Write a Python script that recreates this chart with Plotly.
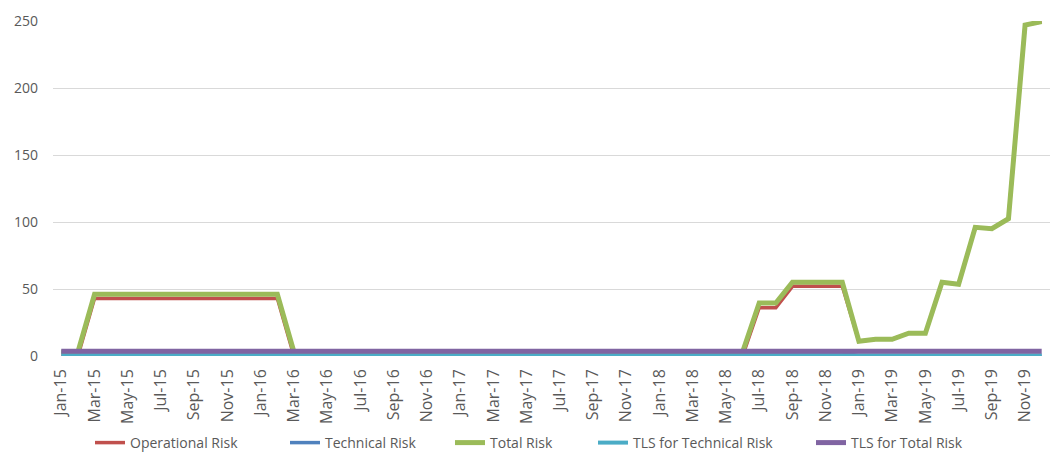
import plotly.graph_objects as go

months = ["Jan", "Feb", "Mar", "Apr", "May", "Jun", "Jul", "Aug", "Sep", "Oct", "Nov", "Dec"]
categories = [f"{m}-{y}" for y in ["15", "16", "17", "18", "19"] for m in months]

operational_risk = (
    [0, 0] + [43] * 12 + [0] * 27 + [0, 36, 36, 52, 52, 52, 52]
    + [11, 12.5, 12.5, 17, 17, 55, 53.5, 96, 95, 102.5, 247, 249.5]
)
technical_risk = [3] * 48 + [0] * 12
total_risk = (
    [3, 3] + [46] * 12 + [3] * 27 + [3, 39.5, 39.5, 55, 55, 55, 55]
    + [11, 12.5, 12.5, 17, 17, 55, 53.5, 96, 95, 102.5, 247, 249.5]
)
tls_technical = [0.5] * 60
tls_total = [3.5] * 60

tick_labels = categories[::2]
y_ticks = [0, 50, 100, 150, 200, 250]

series = [
    ("Operational Risk", operational_risk, "#C0504D", 3.5),
    ("Technical Risk", technical_risk, "#4F81BD", 3.5),
    ("Total Risk", total_risk, "#9BBB59", 5),
    ("TLS for Technical Risk", tls_technical, "#4BACC6", 4),
    ("TLS for Total Risk", tls_total, "#8064A2", 5),
]
# left edge (px) of each legend entry's line sample
legend_px = [95, 290, 455, 598, 816]

x = list(range(len(categories)))
fig = go.Figure()
layout_legends = {}
for i, (name, vals, color, w) in enumerate(series):
    key = "legend" if i == 0 else f"legend{i + 1}"
    fig.add_trace(go.Scatter(
        x=x, y=vals, mode="lines", name=name, legend=key,
        line=dict(color=color, width=w, shape="linear"),
    ))
    layout_legends[key] = dict(
        orientation="h", xref="container", yref="container",
        x=(legend_px[i] - 5) / 1054, xanchor="left",
        y=(462 - 443) / 462, yanchor="middle",
        font=dict(family="Open Sans", size=14, color="#595959"),
        itemwidth=30, bgcolor="rgba(0,0,0,0)",
    )

fig.update_layout(
    width=1054, height=462,
    margin=dict(l=53, r=4, t=21, b=106),
    plot_bgcolor="white", paper_bgcolor="white",
    font=dict(family="Open Sans", size=12, color="#595959"),
    showlegend=True,
    xaxis=dict(
        range=[-0.5, 59.5], tickmode="array",
        tickvals=x[::2], ticktext=tick_labels, tickangle=-90,
        showgrid=False, zeroline=False, showline=False, ticks="",
        ticklabelstandoff=9,
        tickfont=dict(size=16, color="#595959"),
    ),
    yaxis=dict(
        range=[0, 250], tickvals=y_ticks, showgrid=True, gridcolor="#D9D9D9", gridwidth=1,
        zeroline=False, showline=False, ticks="", ticklabelstandoff=14,
        tickfont=dict(size=14, color="#595959"),
    ),
    **layout_legends,
)

fig.write_html("out.html")
